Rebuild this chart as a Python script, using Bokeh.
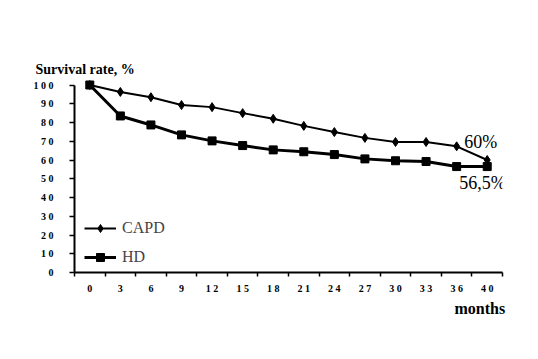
from bokeh.plotting import figure
from bokeh.models import Range1d, FixedTicker, Label, Legend, LegendItem, Title
from bokeh.embed import file_html
from bokeh.resources import INLINE

# ---- data ----
months = ["0", "3", "6", "9", "12", "15", "18", "21", "24", "27", "30", "33", "36", "40"]
x_tick_labels = ["0", "3", "6", "9", "1 2", "1 5", "1 8", "2 1", "2 4", "2 7", "3 0", "3 3", "3 6", "4 0"]
capd = [100, 96.3, 93.5, 89.3, 88.2, 85, 82, 78.2, 74.9, 71.8, 69.6, 69.6, 67.3, 60]
hd = [100, 83.5, 78.7, 73.4, 70.2, 67.7, 65.4, 64.4, 62.9, 60.6, 59.6, 59.2, 56.5, 56.5]
y_ticks = [0, 10, 20, 30, 40, 50, 60, 70, 80, 90, 100]
y_tick_labels = ["0", "1 0", "2 0", "3 0", "4 0", "5 0", "6 0", "7 0", "8 0", "9 0", "1 0 0"]
capd_end_label = "60%"
hd_end_label = "56,5%"
y_title = "Survival rate, %"
x_title = "months"

SERIF = "Liberation Serif"
xs = list(range(len(months)))

p = figure(width=538, height=359, output_backend="svg", toolbar_location=None,
           x_range=Range1d(-0.5, len(months) - 0.5), y_range=Range1d(0, 104),
           min_border_left=74, min_border_right=36, min_border_top=77, min_border_bottom=87)
p.outline_line_color = None
p.xgrid.grid_line_color = None
p.ygrid.grid_line_color = None

# x axis: tick marks at category boundaries, labels at category centres
xa = p.xaxis[0]
xa.ticker = FixedTicker(ticks=xs, minor_ticks=[i - 0.5 for i in range(len(months) + 1)])
xa.major_label_overrides = {i: t for i, t in enumerate(x_tick_labels)}
xa.major_tick_line_color = None
xa.major_tick_out = 0
xa.major_tick_in = 0
xa.minor_tick_out = 4
xa.minor_tick_in = 0
xa.minor_tick_line_color = "black"
xa.minor_tick_line_width = 1.5
xa.axis_line_width = 2
xa.axis_line_color = "black"
xa.bounds = (-0.5, len(months) - 0.5)
xa.major_label_standoff = 6
xa.major_label_text_font = SERIF
xa.major_label_text_font_style = "bold"
xa.major_label_text_font_size = "10px"
xa.major_label_text_color = "black"

ya = p.yaxis[0]
ya.ticker = FixedTicker(ticks=y_ticks, minor_ticks=[])
ya.major_label_overrides = {v: t for v, t in zip(y_ticks, y_tick_labels)}
ya.major_tick_out = 5
ya.major_tick_in = 0
ya.major_tick_line_width = 1.5
ya.axis_line_width = 2
ya.axis_line_color = "black"
ya.bounds = (0, 100)
ya.major_label_standoff = 16
ya.major_label_text_font = SERIF
ya.major_label_text_font_style = "bold"
ya.major_label_text_font_size = "10px"
ya.major_label_text_color = "black"

# series
l1 = p.line(xs, capd, line_color="black", line_width=2)
m1 = p.scatter(xs, capd, marker="diamond", size=9, fill_color="black", line_color="black")
l2 = p.line(xs, hd, line_color="black", line_width=3)
m2 = p.scatter(xs, hd, marker="square", size=8, fill_color="black", line_color="black")

legend = Legend(items=[LegendItem(label="CAPD", renderers=[l1, m1]),
                       LegendItem(label="HD", renderers=[l2, m2])],
                location=(10, 5), padding=0, margin=0, spacing=9,
                glyph_width=32, glyph_height=20, label_height=20, label_standoff=6,
                label_text_font=SERIF, label_text_font_size="16px",
                border_line_color=None, background_fill_alpha=0)
p.add_layout(legend, "center")

# end-value annotations
p.add_layout(Label(x=xs[-1], y=capd[-1], text=capd_end_label, x_offset=-23, y_offset=18,
                   text_baseline="middle", text_font=SERIF, text_font_size="18px",
                   text_color="black"))
p.add_layout(Label(x=xs[-1], y=hd[-1], text=hd_end_label, x_offset=-28, y_offset=-16,
                   text_baseline="middle", text_font=SERIF, text_font_size="18px",
                   text_color="black"))

# axis titles
p.add_layout(Title(text=y_title, align="left", offset=-39, standoff=2,
                   text_font=SERIF, text_font_style="bold", text_font_size="14px",
                   text_color="black"), "above")
p.add_layout(Title(text=x_title, align="left", offset=380, standoff=3,
                   text_font=SERIF, text_font_style="bold", text_font_size="16px",
                   text_color="black"), "below")

open("out.html", "w").write(file_html(p, INLINE))
